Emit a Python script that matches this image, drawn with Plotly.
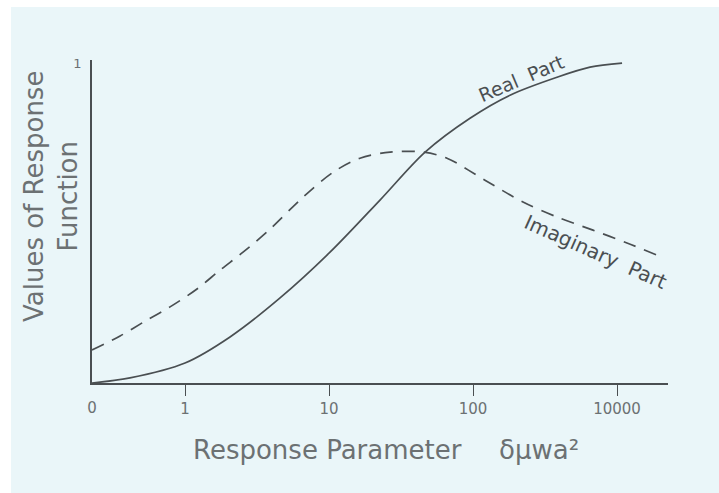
import plotly.graph_objects as go

# x positions are in "decade" units: 1 -> 0, 10 -> 1, 100 -> 2, 10000 -> 3, origin "0" -> -0.646
tick_pos = [0, 1, 2, 3]
tick_text = ["1", "10", "100", "10000"]
origin_pos = -0.646
origin_text = "0"

real_x = [-0.646, -0.382, 0.0, 0.3125, 0.66, 1.007, 1.354, 1.667, 1.979, 2.257, 2.583, 2.8125, 3.035]
real_y = [0.0, 0.016, 0.0625, 0.144, 0.266, 0.409, 0.572, 0.722, 0.828, 0.900, 0.956, 0.9875, 1.0]

imag_x = [-0.646, -0.451, -0.264, -0.104, 0.083, 0.243, 0.403, 0.590, 0.819, 1.028, 1.215,
          1.424, 1.653, 1.819, 2.083, 2.347, 2.583, 2.833, 3.069, 3.278]
imag_y = [0.103, 0.147, 0.197, 0.238, 0.294, 0.353, 0.409, 0.481, 0.581, 0.659, 0.703,
          0.722, 0.722, 0.703, 0.634, 0.566, 0.519, 0.478, 0.438, 0.400]

LINE = "#4a4f52"
TEXT = "#6c7173"
BG = "#eaf6f9"
FONT = "DejaVu Sans, Liberation Sans, sans-serif"

fig = go.Figure()
fig.add_trace(go.Scatter(x=real_x, y=real_y, mode="lines", name="Real Part",
                         line=dict(color=LINE, width=1.7, shape="spline", smoothing=0.9)))
fig.add_trace(go.Scatter(x=imag_x, y=imag_y, mode="lines", name="Imaginary Part",
                         line=dict(color=LINE, width=1.7, shape="spline", smoothing=0.9, dash="13px,9px")))
# invisible trace to activate overlay axis carrying the origin label
fig.add_trace(go.Scatter(x=[origin_pos], y=[0], xaxis="x2", mode="markers",
                         marker=dict(opacity=0), showlegend=False, hoverinfo="skip"))

W, H = 719, 493
L, R, T, B = 92, 51, 60, 110
pw = W - L - R
ph = H - T - B


def px(page_x):
    return (page_x - L) / pw


def py(page_y):
    return (H - B - page_y) / ph


fig.update_layout(
    width=W, height=H,
    margin=dict(l=L, r=R, t=T, b=B, pad=0),
    paper_bgcolor=BG,
    plot_bgcolor="rgba(0,0,0,0)",
    showlegend=False,
    font=dict(family=FONT, color=TEXT),
    xaxis=dict(range=[origin_pos, 3.354], showgrid=False, zeroline=False,
               showline=True, linecolor=LINE, linewidth=1.6,
               tickmode="array", tickvals=tick_pos, ticktext=tick_text,
               ticks="outside", ticklen=11, tickwidth=1.4, tickcolor=LINE,
               tickfont=dict(size=15, color=TEXT, family=FONT)),
    xaxis2=dict(range=[origin_pos, 3.354], overlaying="x", anchor="y", side="bottom",
                showgrid=False, zeroline=False, showline=False,
                tickmode="array", tickvals=[origin_pos], ticktext=[origin_text],
                ticks="outside", ticklen=11, tickcolor="rgba(0,0,0,0)",
                tickfont=dict(size=15, color=TEXT, family=FONT)),
    yaxis=dict(range=[0, 1.01], showgrid=False, zeroline=False,
               showline=True, linecolor=LINE, linewidth=1.6,
               tickmode="array", tickvals=[1], ticktext=["1"], ticks="",
               ticklabelstandoff=6,
               tickfont=dict(size=13, color=TEXT, family=FONT)),
    shapes=[
        dict(type="rect", xref="paper", yref="paper", layer="below",
             x0=px(-5), x1=px(11), y0=py(500), y1=py(-5),
             fillcolor="white", line=dict(width=0)),
        dict(type="rect", xref="paper", yref="paper", layer="below",
             x0=px(-5), x1=px(725), y0=py(7), y1=py(-5),
             fillcolor="white", line=dict(width=0)),
    ],
    annotations=[
        dict(text="Response Parameter", xref="paper", yref="paper",
             x=px(327), y=py(450), showarrow=False,
             xanchor="center", yanchor="middle",
             font=dict(size=26, color=TEXT, family=FONT)),
        dict(text="δμwa²", xref="paper", yref="paper",
             x=px(539), y=py(450), showarrow=False,
             xanchor="center", yanchor="middle",
             font=dict(size=26, color=TEXT, family=FONT)),
        dict(text="Values of Response<br>Function", xref="paper", yref="paper",
             x=px(51), y=py(197), showarrow=False, textangle=-90,
             xanchor="center", yanchor="middle",
             font=dict(size=26, color=TEXT, family=FONT)),
        dict(text="Real  Part", x=2.34, y=0.953, xref="x", yref="y", showarrow=False,
             textangle=-23, font=dict(size=19, color=LINE, family=FONT)),
        dict(text="Imaginary  Part", x=2.85, y=0.41, xref="x", yref="y", showarrow=False,
             textangle=24, font=dict(size=20, color=LINE, family=FONT)),
    ],
)

fig.write_html("out.html", config={"displayModeBar": False},
               post_script="document.body.style.margin='0';document.body.style.overflow='hidden';")
